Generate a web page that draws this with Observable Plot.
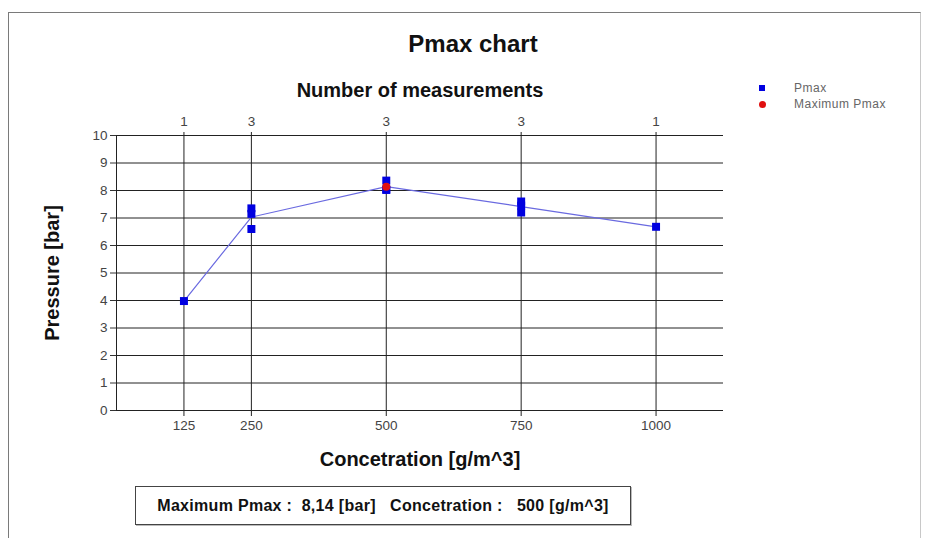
<!DOCTYPE html>
<html><head><meta charset="utf-8">
<script src="https://cdn.jsdelivr.net/npm/d3@7"></script>
<script src="https://cdn.jsdelivr.net/npm/@observablehq/plot@0.6"></script>
<style>
body{margin:0;background:#fff;font-family:"Liberation Sans",Arial,sans-serif;}
#wrap{position:relative;width:926px;height:538px;overflow:hidden;background:#fff;}
#frame{position:absolute;left:8px;top:12px;width:911px;height:560px;border:1px solid #7a7a7a;border-right-color:#c8c8c8;}
#title{position:absolute;left:10px;width:926px;top:30px;text-align:center;font-weight:bold;font-size:24px;color:#111;}
#legend{position:absolute;left:759px;top:80px;font-size:12px;letter-spacing:0.5px;color:#666;line-height:16px;}
#legend .sq{display:inline-block;width:6px;height:6px;background:#0000e0;margin-right:29px;vertical-align:1px;}
#legend .ci{display:inline-block;width:7px;height:7px;border-radius:50%;background:#e01010;margin-right:28px;vertical-align:0px;}
#box{position:absolute;left:135px;top:486px;width:494px;height:37px;border:1px solid #444;box-shadow:1px 1px 0 #bbb;text-align:center;line-height:37px;font-weight:bold;font-size:16px;letter-spacing:0.3px;color:#111;white-space:pre;}
#chart{position:absolute;left:0;top:0;}
</style></head>
<body>
<div id="wrap">
  <div id="frame"></div>
  <div id="chart"></div>
  <div id="title">Pmax chart</div>
  <div id="legend"><div><span class="sq"></span>Pmax</div><div><span class="ci"></span>Maximum Pmax</div></div>
  <div id="box">Maximum Pmax :  8,14 [bar]   Concetration :   500 [g/m^3]</div>
</div>
<script>
// Categories (concentrations) and number of measurements per category
const concentrations = [125, 250, 500, 750, 1000];
const measurementCounts = [1, 3, 3, 3, 1];
// Individual measurements
const measConc = [125, 250, 250, 250, 500, 500, 500, 750, 750, 750, 1000];
const measPressure = [3.98, 7.35, 7.15, 6.6, 8.36, 8.04, 8.02, 7.6, 7.45, 7.2, 6.68];
// Maximum Pmax point
const maxConc = [500];
const maxPressure = [8.14];
// Tick labels
const yTicks = [0, 1, 2, 3, 4, 5, 6, 7, 8, 9, 10];

const meas = measConc.map((c, i) => ({conc: c, p: measPressure[i]}));
const maxPts = maxConc.map((c, i) => ({conc: c, p: maxPressure[i]}));
const countOf = new Map(concentrations.map((c, i) => [c, measurementCounts[i]]));

const font = '"Liberation Sans", Arial, sans-serif';
const chart = Plot.plot({
  width: 926,
  height: 538,
  marginLeft: 116,
  marginRight: 203,
  marginTop: 135,
  marginBottom: 128,
  style: {fontFamily: font, background: "transparent", overflow: "visible"},
  x: {domain: [0, 1125]},
  y: {domain: [0, 10]},
  marks: [
    Plot.gridY(yTicks, {stroke: "#222", strokeOpacity: 1}),
    Plot.gridX(concentrations, {stroke: "#222", strokeOpacity: 1}),
    Plot.frame({anchor: "left", stroke: "#222"}),
    Plot.axisY(yTicks, {tickSize: 6, tickPadding: 3, fontSize: 13.5, fill: "#444", stroke: "#333",
      label: "Pressure [bar]", labelArrow: "none", labelAnchor: "center", labelOffset: 72}),
    Plot.axisX(concentrations, {anchor: "bottom", tickSize: 6, tickPadding: 4, fontSize: 13.5, fill: "#444", stroke: "#222",
      tickFormat: d => String(d), label: "Concetration [g/m^3]", labelArrow: "none", labelAnchor: "center", labelOffset: 55}),
    Plot.axisX(concentrations, {anchor: "top", tickSize: 4, tickPadding: 6, fontSize: 13.5, fill: "#444", stroke: "#222",
      tickFormat: d => String(countOf.get(d)), label: "Number of measurements", labelArrow: "none", labelAnchor: "center", labelOffset: 53}),
    Plot.line(meas, Plot.groupX({y: "mean"}, {x: "conc", y: "p", stroke: "#6a6ae0", strokeWidth: 1.2})),
    Plot.dot(meas, {x: "conc", y: "p", symbol: "square", r: 4.5, fill: "#0000e0", stroke: "none"}),
    Plot.dot(maxPts, {x: "conc", y: "p", r: 4, fill: "#e01010", stroke: "none"})
  ]
});
// style the axis labels (bold, larger)
chart.querySelectorAll('g[aria-label$="axis label"] text').forEach(t => {
  t.setAttribute("font-weight", "bold");
  t.setAttribute("font-size", "20");
  t.setAttribute("fill", "#111");
});
document.getElementById("chart").appendChild(chart);
</script>
</body></html>
